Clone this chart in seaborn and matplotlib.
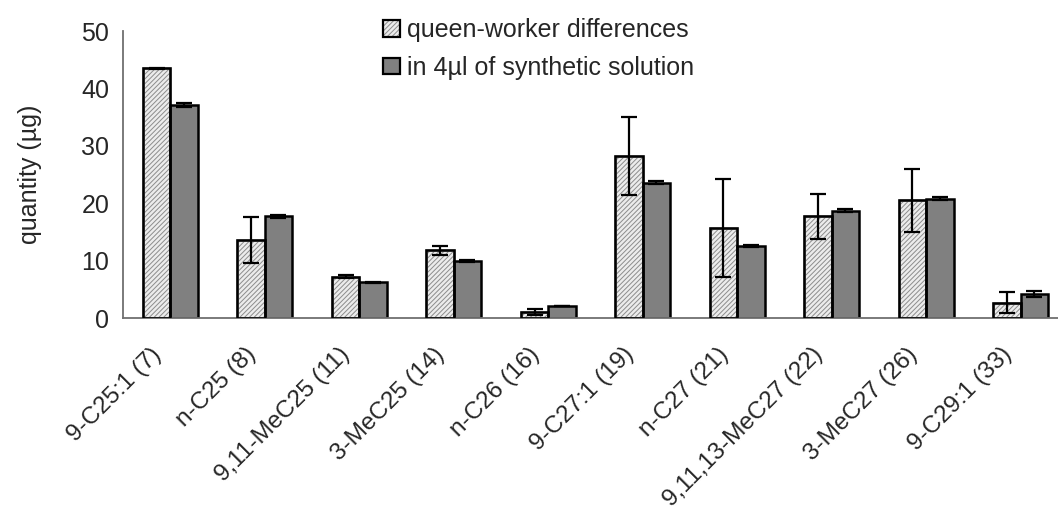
import matplotlib
matplotlib.use("Agg")
import matplotlib.pyplot as plt
import matplotlib.transforms as mtransforms
import seaborn as sns
import pandas as pd
import numpy as np
from matplotlib.patches import Patch, Rectangle
from matplotlib.legend_handler import HandlerTuple

compounds = ["9-C25:1 (7)", "n-C25 (8)", "9,11-MeC25 (11)", "3-MeC25 (14)",
             "n-C26 (16)", "9-C27:1 (19)", "n-C27 (21)", "9,11,13-MeC27 (22)",
             "3-MeC27 (26)", "9-C29:1 (33)"]
series_names = ["queen-worker differences", "in 4µl of synthetic solution"]
queen_worker = [43.5, 13.6, 7.2, 11.8, 1.0, 28.3, 15.7, 17.7, 20.5, 2.7]
queen_worker_err = [0.1, 4.0, 0.3, 0.8, 0.5, 6.8, 8.6, 4.0, 5.5, 1.8]
synthetic = [37.2, 17.7, 6.2, 10.0, 2.1, 23.6, 12.6, 18.7, 20.8, 4.2]
synthetic_err = [0.35, 0.3, 0.15, 0.15, 0.05, 0.3, 0.2, 0.3, 0.3, 0.6]

df = pd.DataFrame({
    "compound": compounds * 2,
    "series": [series_names[0]] * len(compounds) + [series_names[1]] * len(compounds),
    "value": queen_worker + synthetic,
})

sns.set_style("white")
plt.rcParams["font.family"] = ["Liberation Sans", "DejaVu Sans"]
plt.rcParams["hatch.linewidth"] = 0.7
FS = 18
FS_X = 17.5

fig = plt.figure(figsize=(10.58, 5.18), dpi=100)
# the plot area runs slightly past the right edge of the figure
ax = fig.add_axes([0.1163, 0.386, 0.893, 0.554])

light = "#ececec"
dark = "#808080"
hatch_grey = "#8c8c8c"
sns.barplot(data=df, x="compound", y="value", hue="series",
            palette=[light, dark], order=compounds, hue_order=series_names,
            width=0.58, gap=0, errorbar=None, edgecolor="black", linewidth=1.8,
            legend=False, ax=ax)

# fine grey hatching on the first series, black outline on top,
# and error bars centred on every bar
n = len(compounds)
for i, bar in enumerate(ax.patches[:2 * n]):
    if i < n:
        bar.set_hatch("///////")
        bar.set_edgecolor(hatch_grey)
        ax.add_patch(Rectangle(bar.get_xy(), bar.get_width(), bar.get_height(),
                               fill=False, edgecolor="black", linewidth=1.8, zorder=3))
        err = queen_worker_err[i]
    else:
        err = synthetic_err[i - n]
    cx = bar.get_x() + bar.get_width() / 2
    ax.errorbar(cx, bar.get_height(), yerr=err, fmt="none", ecolor="black",
                elinewidth=1.6, capsize=6, capthick=1.6, zorder=5)

ax.set_ylim(0, 50)
ax.set_yticks([0, 10, 20, 30, 40, 50])
ax.set_xlim(-0.5, n - 0.5)
ax.set_ylabel("quantity (µg)", fontsize=FS, labelpad=28)
ax.set_xlabel("")

ax.set_xticks(np.arange(n))
ax.set_xticklabels(compounds, rotation=45, ha="right", va="center",
                   rotation_mode="anchor", fontsize=FS_X)
ax.set_xticks(np.arange(n + 1) - 0.5, minor=True)
ax.tick_params(axis="x", which="major", length=0, pad=24)
ax.tick_params(axis="x", which="minor", length=5, width=1.2, color="#707070", direction="out")
ax.tick_params(axis="y", labelsize=FS, length=5, width=1.2, color="#707070",
               direction="out", pad=5)

for side in ["top", "right"]:
    ax.spines[side].set_visible(False)
for side in ["left", "bottom"]:
    ax.spines[side].set_color("#707070")
    ax.spines[side].set_linewidth(1.3)

# legend swatches: hatched square with a black outline, plain dark square
hatched = (Patch(facecolor=light, edgecolor=hatch_grey, hatch="///////", linewidth=0),
           Patch(fill=False, edgecolor="black", linewidth=1.6))
plain = Patch(facecolor=dark, edgecolor="black", linewidth=1.6)
ax.legend([hatched, plain], series_names, loc="upper left", bbox_to_anchor=(0.265, 1.08),
          frameon=False, fontsize=FS, handlelength=0.65, handleheight=0.65,
          handletextpad=0.3, labelspacing=0.55, borderaxespad=0,
          handler_map={tuple: HandlerTuple(ndivide=1, pad=0)})

# nudge the slanted category labels a little to the left of their slots
shift = mtransforms.ScaledTranslation(-9 / 72, 0, fig.dpi_scale_trans)
for lbl in ax.get_xticklabels():
    lbl.set_transform(lbl.get_transform() + shift)

fig.savefig("out.png", dpi=100)
